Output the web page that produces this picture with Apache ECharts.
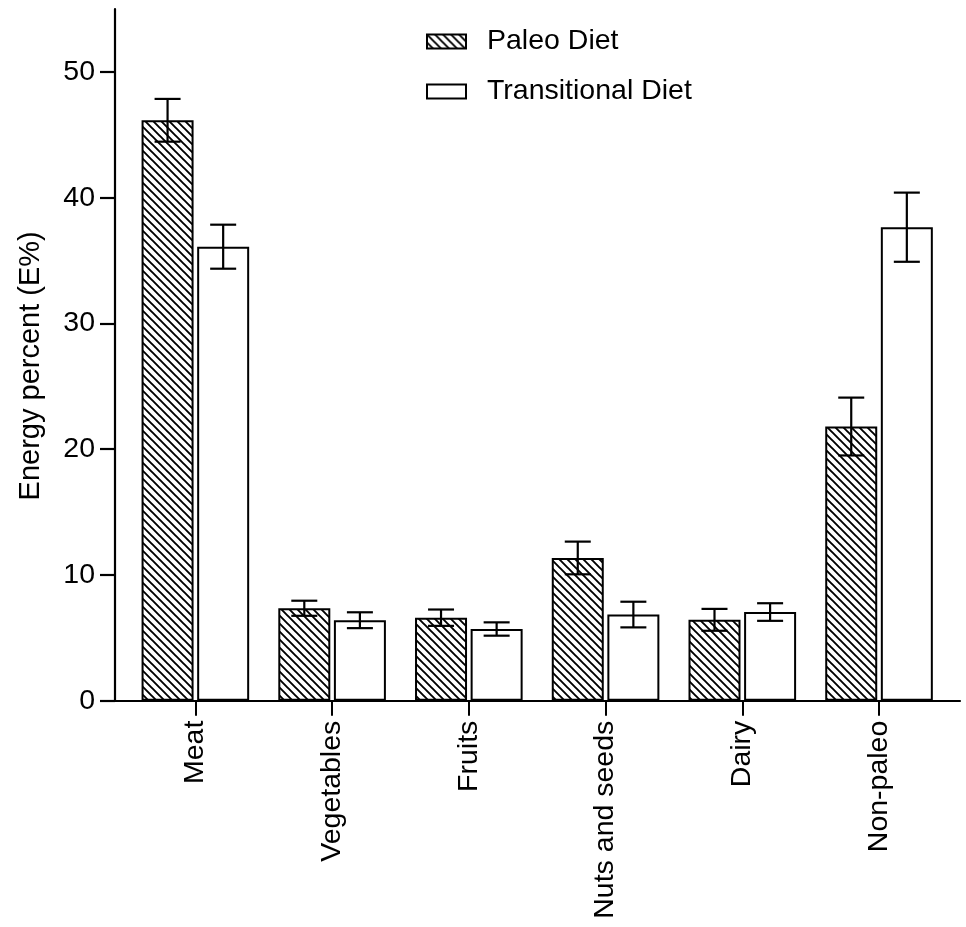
<!DOCTYPE html>
<html>
<head>
<meta charset="utf-8">
<script src="https://cdn.jsdelivr.net/npm/echarts@6/dist/echarts.min.js"></script>
<style>
html,body{margin:0;padding:0;background:#fff;}
#chart{width:966px;height:927px;}
</style>
</head>
<body>
<div id="chart"></div>
<script>
const categories = ['Meat', 'Vegetables', 'Fruits', 'Nuts and seeds', 'Dairy', 'Non-paleo'];
const paleoMean = [46.15, 7.35, 6.6, 11.35, 6.43, 21.8];
const paleoErr  = [1.7, 0.6, 0.65, 1.3, 0.87, 2.3];
const transMean = [36.1, 6.4, 5.7, 6.85, 7.05, 37.65];
const transErr  = [1.75, 0.63, 0.53, 1.02, 0.7, 2.75];
const yTicks = [0, 10, 20, 30, 40, 50];
const seriesNames = ['Paleo Diet', 'Transitional Diet'];

const FONT = '"Liberation Sans", Arial, Helvetica, sans-serif';
const FS = 28.5;
const BAR_W = 52;
const BAR_GAP_PX = 3.6;

function hatch() {
  const s = 8;
  const c = document.createElement('canvas');
  c.width = s; c.height = s;
  const g = c.getContext('2d');
  g.fillStyle = '#fff';
  g.fillRect(0, 0, s, s);
  g.strokeStyle = '#000';
  g.lineWidth = 1.9;
  g.beginPath();
  for (let k = -1; k <= 1; k++) {
    g.moveTo(k * s - 1, -1);
    g.lineTo(k * s + s + 1, s + 1);
  }
  g.stroke();
  return c;
}
const hatchFill = { image: hatch(), repeat: 'repeat' };

function errSeries(name, means, errs, sign) {
  const off = sign * (BAR_W + BAR_GAP_PX) / 2;
  return {
    name: name,
    type: 'custom',
    xAxisIndex: 0,
    yAxisIndex: 0,
    silent: true,
    z: 5,
    data: means.map((m, i) => [i, m, errs[i]]),
    encode: { x: 0, y: 1 },
    renderItem: function (params, api) {
      const i = api.value(0), m = api.value(1), e = api.value(2);
      const hi = api.coord([i, m + e]);
      const lo = api.coord([i, m - e]);
      const cx = hi[0] + off;
      const hw = 13;
      const st = { stroke: '#000', lineWidth: 2.2 };
      return {
        type: 'group',
        children: [
          { type: 'line', shape: { x1: cx, y1: hi[1], x2: cx, y2: lo[1] }, style: st },
          { type: 'line', shape: { x1: cx - hw, y1: hi[1], x2: cx + hw, y2: hi[1] }, style: st },
          { type: 'line', shape: { x1: cx - hw, y1: lo[1], x2: cx + hw, y2: lo[1] }, style: st }
        ]
      };
    }
  };
}

const chart = echarts.init(document.getElementById('chart'), null, { renderer: 'canvas' });
chart.setOption({
  animation: false,
  backgroundColor: '#fff',
  textStyle: { fontFamily: FONT, color: '#000' },
  legend: {
    orient: 'vertical',
    left: 421,
    top: 22,
    icon: 'rect',
    itemWidth: 39,
    itemHeight: 14,
    itemGap: 21,
    textStyle: { fontFamily: FONT, fontSize: FS, color: '#000', padding: [0, 0, 0, 16] },
    data: seriesNames,
    selectedMode: false
  },
  grid: [
    { left: 127, right: 18.6, top: 9, bottom: 226.3, containLabel: false },
    { left: 115, right: 6, top: 9, bottom: 226.3, containLabel: false }
  ],
  xAxis: [
    {
      type: 'category',
      gridIndex: 0,
      data: categories,
      axisLine: { show: false },
      axisTick: { show: true, alignWithLabel: true, length: 15, lineStyle: { color: '#000', width: 2 } },
      axisLabel: { rotate: 90, fontSize: FS, fontFamily: FONT, color: '#000', margin: 20, interval: 0 },
      splitLine: { show: false }
    },
    {
      type: 'value',
      gridIndex: 1,
      min: 0, max: 1,
      axisLine: { show: true, onZero: false, lineStyle: { color: '#000', width: 2.2 } },
      axisTick: { show: false },
      axisLabel: { show: false },
      splitLine: { show: false }
    }
  ],
  yAxis: [
    {
      type: 'value',
      gridIndex: 0,
      min: 0,
      max: 55,
      interval: 10,
      offset: 12,
      name: 'Energy percent (E%)',
      nameLocation: 'middle',
      nameGap: 70,
      nameTextStyle: { fontSize: 29, fontFamily: FONT, color: '#000', padding: [0, 22, 0, 0] },
      axisLine: { show: true, lineStyle: { color: '#000', width: 2.2 } },
      axisTick: { show: true, length: 15, customValues: yTicks, lineStyle: { color: '#000', width: 2.2 } },
      axisLabel: { fontSize: FS, fontFamily: FONT, color: '#000', margin: 20, customValues: yTicks },
      splitLine: { show: false }
    },
    {
      type: 'value',
      gridIndex: 1,
      min: 0, max: 1,
      show: false
    }
  ],
  series: [
    {
      name: seriesNames[0],
      type: 'bar',
      xAxisIndex: 0, yAxisIndex: 0,
      barWidth: BAR_W,
      barGap: (BAR_GAP_PX / BAR_W * 100).toFixed(2) + '%',
      data: paleoMean,
      itemStyle: { color: hatchFill, borderColor: '#000', borderWidth: 2 }
    },
    {
      name: seriesNames[1],
      type: 'bar',
      xAxisIndex: 0, yAxisIndex: 0,
      barWidth: BAR_W,
      data: transMean,
      itemStyle: { color: '#fff', borderColor: '#000', borderWidth: 2 }
    },
    errSeries('paleoErr', paleoMean, paleoErr, -1),
    errSeries('transErr', transMean, transErr, 1)
  ]
});
</script>
</body>
</html>
